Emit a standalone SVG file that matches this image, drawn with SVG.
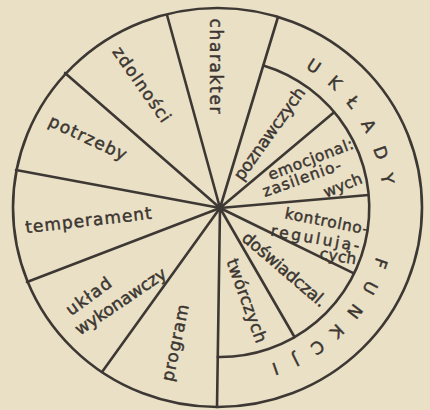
<svg xmlns="http://www.w3.org/2000/svg" width="430" height="410" viewBox="0 0 430 410">
<style>
.ln{fill:none;stroke:#3d3833;stroke-width:2.6;stroke-linecap:round}
.t{font-family:"DejaVu Sans","Liberation Sans",sans-serif;font-size:17px;fill:#3b3631;stroke:#3b3631;stroke-width:0.45;text-anchor:middle}
.s{font-size:15.5px}
.r{font-family:"DejaVu Sans","Liberation Sans",sans-serif;font-size:17px;fill:#3b3631;stroke:#3b3631;stroke-width:0.45;text-anchor:middle}
</style>
<rect x="0" y="0" width="430" height="410" fill="#eae0c6"/>
<g id="connectors">
<ellipse class="ln" cx="217.5" cy="207.5" rx="204.5" ry="199.5"/>
<path class="ln" d="M263.4 65.4 A149 149 0 0 1 217.8 357"/>
<line class="ln" x1="220" y1="208" x2="167" y2="15"/>
<line class="ln" x1="220" y1="208" x2="278" y2="17"/>
<line class="ln" x1="220" y1="208" x2="65" y2="73"/>
<line class="ln" x1="220" y1="208" x2="16" y2="170"/>
<line class="ln" x1="220" y1="208" x2="27" y2="282"/>
<line class="ln" x1="220" y1="208" x2="102" y2="372"/>
<line class="ln" x1="220" y1="208" x2="217" y2="407"/>
<line class="ln" x1="220" y1="208" x2="334.1" y2="112.2"/>
<line class="ln" x1="220" y1="208" x2="368.4" y2="195"/>
<line class="ln" x1="220" y1="208" x2="353.9" y2="273.3"/>
<line class="ln" x1="220" y1="208" x2="294.5" y2="337"/>
<circle cx="220" cy="208" r="3.5" fill="#3d3833"/>
</g>
<g id="charakter"><text class="t" transform="translate(215,66) rotate(90)" y="5" textLength="95" lengthAdjust="spacing">charakter</text></g>
<g id="zdolnosci"><text class="t" transform="translate(141,85) rotate(55)" y="5" textLength="88" lengthAdjust="spacing">zdolności</text></g>
<g id="potrzeby"><text class="t" transform="translate(87.5,138.5) rotate(25)" y="5" textLength="84" lengthAdjust="spacing">potrzeby</text></g>
<g id="temperament"><text class="t" transform="translate(88.5,221) rotate(-6.5)" y="5" textLength="127" lengthAdjust="spacing">temperament</text></g>
<g id="uklad-wykonawczy">
<text class="t" transform="translate(89,297) rotate(-36)" y="5" textLength="52" lengthAdjust="spacing">układ</text>
<text class="t" transform="translate(121,302) rotate(-34)" y="5" textLength="106" lengthAdjust="spacing">wykonawczy</text>
</g>
<g id="program"><text class="t" transform="translate(176,343) rotate(-78)" y="5" textLength="78" lengthAdjust="spacing">program</text></g>
<g id="poznawczych"><text class="t" transform="translate(270,134) rotate(-54.5)" y="5" textLength="110" lengthAdjust="spacing">poznawczych</text></g>
<g id="emocjonal">
<text class="t s" transform="translate(311,160) rotate(-21)" y="4.5" textLength="90" lengthAdjust="spacing">emocjonal:</text>
<text class="t s" transform="translate(302,179) rotate(-19.5)" y="4.5" textLength="82" lengthAdjust="spacing">zasilenio-</text>
<text class="t s" transform="translate(343,186) rotate(-22)" y="4.5">wych</text>
</g>
<g id="kontrolno">
<text class="t s" transform="translate(326.5,222) rotate(11)" y="4.5" textLength="85" lengthAdjust="spacing">kontrolno-</text>
<text class="t s" transform="translate(315,239) rotate(10)" y="4.5" textLength="90" lengthAdjust="spacing">regulują-</text>
<text class="t s" transform="translate(338,257) rotate(9)" y="4.5" textLength="37" lengthAdjust="spacing">cych</text>
</g>
<g id="doswiadczal"><text class="t" transform="translate(284,270) rotate(40.5)" y="5" textLength="105" lengthAdjust="spacing">doświadczal.</text></g>
<g id="tworczych"><text class="t" transform="translate(246,301) rotate(70)" y="5" textLength="88" lengthAdjust="spacing">twórczych</text></g>
<g id="uklady-funkcji">
<text class="r" transform="translate(313.8,66.2) rotate(33.5)" y="6">U</text>
<text class="r" transform="translate(334.9,82.7) rotate(42.5)" y="6">K</text>
<text class="r" transform="translate(353.1,102.1) rotate(51.5)" y="6">Ł</text>
<text class="r" transform="translate(368.7,125.6) rotate(61)" y="6">A</text>
<text class="r" transform="translate(380.7,152.7) rotate(71)" y="6">D</text>
<text class="r" transform="translate(387.4,178.5) rotate(80)" y="6">Y</text>
<text class="r" transform="translate(380.7,263.4) rotate(109)" y="6">F</text>
<text class="r" transform="translate(370.1,287.8) rotate(118)" y="6">U</text>
<text class="r" transform="translate(354.8,311.5) rotate(127.5)" y="6">N</text>
<text class="r" transform="translate(337,331.3) rotate(136.5)" y="6">K</text>
<text class="r" transform="translate(317.5,347.2) rotate(145)" y="6">C</text>
<text class="r" transform="translate(295.8,360.2) rotate(153.5)" y="6">J</text>
<text class="r" transform="translate(275.4,368.8) rotate(161)" y="6">I</text>
</g>
</svg>
